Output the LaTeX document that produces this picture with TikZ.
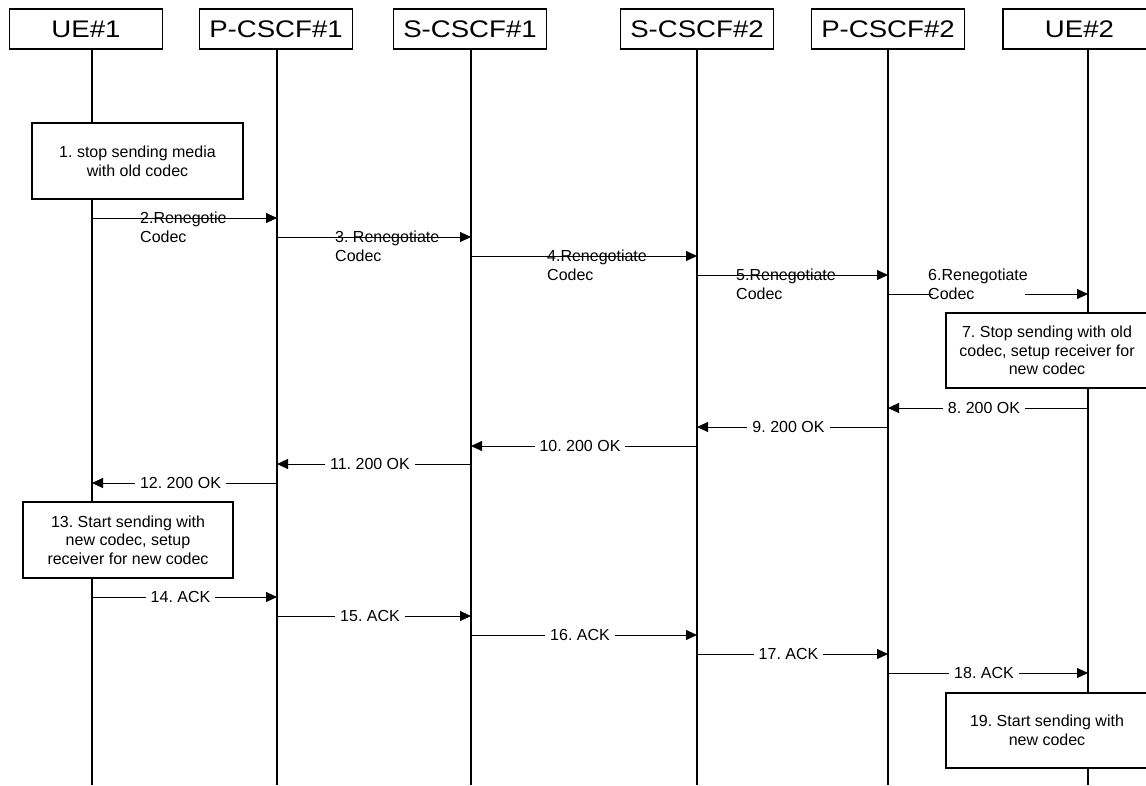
\documentclass[tikz,border=0pt]{standalone}
\usepackage{fontspec}
\setmainfont{Liberation Sans}
\newfontfamily\headfont[FakeStretch=1.15]{Liberation Sans}
\usetikzlibrary{arrows.meta,positioning}
\frenchspacing

\tikzset{
  entity/.style={draw, line width=1.1pt, minimum width=153pt, minimum height=40pt, inner sep=0pt, font=\headfont\fontsize{24}{28}\selectfont},
  life/.style={line width=1.4pt},
  actbox/.style={draw, fill=white, line width=1.2pt, align=center, inner sep=0pt, font=\fontsize{16}{18.7}\selectfont},
  msg/.style={line width=0.9pt, -{Triangle[length=11pt,width=10pt]}},
  lbl/.style={fill=white, inner xsep=5pt, inner ysep=1pt, xshift=-4pt, font=\fontsize{16}{18.7}\selectfont},
  reneg/.style={anchor=west, align=left, inner sep=0pt, font=\fontsize{16}{18.7}\selectfont}
}

\begin{document}
\begin{tikzpicture}[x=1pt, y=-1pt]
  \useasboundingbox (0,0) rectangle (1146,785);

  % entities
  \node[entity] (UE1) at (86,29) {UE\#1};
  \node[entity] (PCSCF1) at (276,29) {P-CSCF\#1};
  \node[entity] (SCSCF1) at (470,29) {S-CSCF\#1};
  \node[entity] (SCSCF2) at (697,29) {S-CSCF\#2};
  \node[entity] (PCSCF2) at (888,29) {P-CSCF\#2};
  \node[entity] (UE2) at (1079.5,29) {UE\#2};

  % lifelines
  \coordinate (ue1) at (92,49);
  \coordinate (pc1) at (277,49);
  \coordinate (sc1) at (471,49);
  \coordinate (sc2) at (697,49);
  \coordinate (pc2) at (888,49);
  \coordinate (ue2) at (1088,49);
  \draw[life] (ue1) -- (ue1 |- 0,785);
  \draw[life] (pc1) -- (pc1 |- 0,785);
  \draw[life] (sc1) -- (sc1 |- 0,785);
  \draw[life] (sc2) -- (sc2 |- 0,785);
  \draw[life] (pc2) -- (pc2 |- 0,785);
  \draw[life] (ue2) -- (ue2 |- 0,785);

  % local actions
  \node[actbox, minimum width=211pt, minimum height=76pt] (stop1) at (137.5,161) {1. stop sending media\\with old codec};
  \node[actbox, minimum width=202pt, minimum height=75pt] (stop7) at (1047,350.5) {7. Stop sending with old\\codec, setup receiver for\\new codec};
  \node[actbox, minimum width=210pt, minimum height=76pt] (start13) at (128,540) {13. Start sending with\\new codec, setup\\receiver for new codec};
  \node[actbox, minimum width=202pt, minimum height=75pt] (start19) at (1047,730.5) {19. Start sending with\\new codec};

  % renegotiation
  \draw[msg] (ue1 |- 0,218) -- (pc1 |- 0,218);
  \node[reneg] (m2) at (140,227) {2.Renegotie\\Codec};
  \draw[msg] (pc1 |- 0,237) -- (sc1 |- 0,237);
  \node[reneg] (m3) at (335,246) {3. Renegotiate\\Codec};
  \draw[msg] (sc1 |- 0,256) -- (sc2 |- 0,256);
  \node[reneg] (m4) at (547,265) {4.Renegotiate\\Codec};
  \draw[msg] (sc2 |- 0,275) -- (pc2 |- 0,275);
  \node[reneg] (m5) at (736,284) {5.Renegotiate\\Codec};
  \coordinate (m6a) at (933,294);
  \coordinate (m6b) at (1025,294);
  \draw[line width=0.9pt] (pc2 |- m6a) -- (m6a);
  \draw[msg] (m6b) -- (ue2 |- m6b);
  \node[reneg] (m6) at (928,284.5) {6.Renegotiate\\Codec};

  % 200 OK
  \draw[msg] (ue2 |- 0,408) -- node[lbl] {8. 200 OK} (pc2 |- 0,408);
  \draw[msg] (pc2 |- 0,427) -- node[lbl] {9. 200 OK} (sc2 |- 0,427);
  \draw[msg] (sc2 |- 0,446) -- node[lbl] {10. 200 OK} (sc1 |- 0,446);
  \draw[msg] (sc1 |- 0,464) -- node[lbl] {11. 200 OK} (pc1 |- 0,464);
  \draw[msg] (pc1 |- 0,483) -- node[lbl] {12. 200 OK} (ue1 |- 0,483);

  % ACK
  \draw[msg] (ue1 |- 0,597) -- node[lbl] {14. ACK} (pc1 |- 0,597);
  \draw[msg] (pc1 |- 0,616) -- node[lbl] {15. ACK} (sc1 |- 0,616);
  \draw[msg] (sc1 |- 0,635) -- node[lbl] {16. ACK} (sc2 |- 0,635);
  \draw[msg] (sc2 |- 0,654) -- node[lbl] {17. ACK} (pc2 |- 0,654);
  \draw[msg] (pc2 |- 0,673) -- node[lbl] {18. ACK} (ue2 |- 0,673);
\end{tikzpicture}
\end{document}
